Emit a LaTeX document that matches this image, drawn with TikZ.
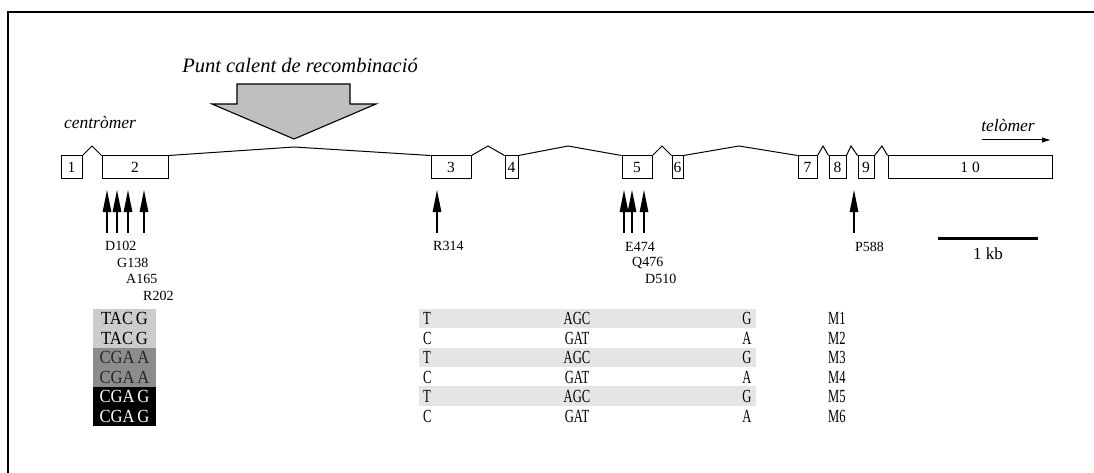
\documentclass[tikz,border=0pt]{standalone}
\usepackage{fontspec}
\setmainfont{Liberation Serif}
\usetikzlibrary{arrows.meta}
\definecolor{hotgray}{gray}{0.75}
\definecolor{lightrow}{gray}{0.80}
\definecolor{midrow}{gray}{0.55}
\definecolor{stripe}{gray}{0.90}
\begin{document}
\begin{tikzpicture}[x=1pt,y=-1pt,
  exon/.style={draw, line width=1pt, inner sep=0pt, minimum height=23pt, font=\fontsize{15.5}{17}\selectfont},
  intron/.style={line width=1pt},
  mutarrow/.style={line width=1.1pt, -{Triangle[length=22pt,width=8.5pt]}},
  mutlabel/.style={anchor=west, inner sep=0pt, font=\fontsize{14}{15}\selectfont},
  tabtext/.style={inner sep=0pt, font=\fontsize{18.5}{20}\selectfont},
  lefttab/.style={tabtext, anchor=center},
]
\useasboundingbox (0,0) rectangle (1094,473);
% frame
\draw[line width=1.8pt] (8,473) -- (8,12) -- (1094,12);

% title and hotspot arrow
\node[font=\fontsize{20.5}{22}\selectfont\itshape, inner sep=0pt] (title) at (300,65) {Punt calent de recombinació};
\draw[line width=1.1pt, fill=hotgray] (237,84) -- (350,84) -- (350,104) -- (376,104) -- (294,139) -- (212,104) -- (237,104) -- cycle;

% labels
\node[font=\fontsize{17.5}{19}\selectfont\itshape, inner sep=0pt] (cen) at (100,123) {centròmer};
\node[font=\fontsize{17.5}{19}\selectfont\itshape, inner sep=0pt] (tel) at (1008,126) {telòmer};
\coordinate (tela) at (982,140);
\coordinate (telb) at (1051,140);
\draw[line width=1pt, -{Latex[length=9pt,width=5.5pt]}] (tela) -- (telb);

% exons
\node[exon, minimum width=21pt] (e1) at (71.5,167.5) {1};
\node[exon, minimum width=66pt] (e2) at (135,167.5) {2};
\node[exon, minimum width=40pt] (e3) at (451,167.5) {3};
\node[exon, minimum width=13pt] (e4) at (511.5,167.5) {4};
\node[exon, minimum width=30pt] (e5) at (637,167.5) {5};
\node[exon, minimum width=11pt] (e6) at (677.5,167.5) {6};
\node[exon, minimum width=19pt] (e7) at (807.5,167.5) {7};
\node[exon, minimum width=17pt] (e8) at (837.5,167.5) {8};
\node[exon, minimum width=16pt] (e9) at (866,167.5) {9};
\node[exon, minimum width=164pt] (e10) at (970,167.5) {1\hspace{4pt}0};

% introns
\coordinate (a12) at (92,146);
\coordinate (a23) at (294,147);
\coordinate (a34) at (488,146);
\coordinate (a45) at (568,146);
\coordinate (a56) at (662,146);
\coordinate (a67) at (739,146);
\coordinate (a78) at (823,146);
\coordinate (a89) at (851,146);
\coordinate (a910) at (882,146);
\draw[intron] (e1.north east) -- (a12) -- (e2.north west);
\draw[intron] (e2.north east) -- (a23) -- (e3.north west);
\draw[intron] (e3.north east) -- (a34) -- (e4.north west);
\draw[intron] (e4.north east) -- (a45) -- (e5.north west);
\draw[intron] (e5.north east) -- (a56) -- (e6.north west);
\draw[intron] (e6.north east) -- (a67) -- (e7.north west);
\draw[intron] (e7.north east) -- (a78) -- (e8.north west);
\draw[intron] (e8.north east) -- (a89) -- (e9.north west);
\draw[intron] (e9.north east) -- (a910) -- (e10.north west);

% mutation arrows
\foreach \n/\x in {m1/107, m2/117, m3/128, m4/144, m5/437, m6/624, m7/632, m8/644, m9/854} {
  \coordinate (\n b) at (\x,233);
  \coordinate (\n t) at (\x,190);
  \draw[mutarrow] (\n b) -- (\n t);
}
\node[mutlabel] (l1) at (105,246) {D102};
\node[mutlabel] (l2) at (117,263) {G138};
\node[mutlabel] (l3) at (126,279) {A165};
\node[mutlabel] (l4) at (143,296) {R202};
\node[mutlabel] (l5) at (433,246) {R314};
\node[mutlabel] (l6) at (625,247) {E474};
\node[mutlabel] (l7) at (632,263) {Q476};
\node[mutlabel] (l8) at (645,279) {D510};
\node[mutlabel] (l9) at (855,247) {P588};

% scale bar
\coordinate (sba) at (938,238);
\coordinate (sbb) at (1038,238);
\draw[line width=3pt] (sba) -- (sbb);
\node[font=\fontsize{17}{18}\selectfont, inner sep=0pt] (kb) at (988,254) {1 kb};

% table: left block
\fill[lightrow] (93,309) rectangle (156,348);
\fill[midrow] (93,348) rectangle (156,387);
\fill[black] (93,387) rectangle (156,426);
\node[lefttab] (h1) at (124.5,318.7) {\scalebox{0.9}[1]{TAC\hspace{3pt}G}};
\node[lefttab] (h2) at (124.5,338.2) {\scalebox{0.9}[1]{TAC\hspace{3pt}G}};
\node[lefttab, text=black!85] (h3) at (124.5,357.7) {\scalebox{0.9}[1]{CGA\hspace{3pt}A}};
\node[lefttab, text=black!85] (h4) at (124.5,377.2) {\scalebox{0.9}[1]{CGA\hspace{3pt}A}};
\node[lefttab, text=white] (h5) at (124.5,396.7) {\scalebox{0.9}[1]{CGA\hspace{3pt}G}};
\node[lefttab, text=white] (h6) at (124.5,416.2) {\scalebox{0.9}[1]{CGA\hspace{3pt}G}};

% table: right stripes
\fill[stripe] (419,309) rectangle (756,328);
\fill[stripe] (419,348) rectangle (756,367);
\fill[stripe] (419,386) rectangle (756,406);

\foreach \i/\y/\a/\b/\c in {1/318.7/T/AGC/G, 2/338.2/C/GAT/A, 3/357.7/T/AGC/G, 4/377.2/C/GAT/A, 5/396.7/T/AGC/G, 6/416.2/C/GAT/A} {
  \node[tabtext, anchor=west] (ca\i) at (423,\y) {\scalebox{0.68}[1]{\a}};
  \node[tabtext] (cb\i) at (577,\y) {\scalebox{0.68}[1]{\b}};
  \node[tabtext] (cc\i) at (747,\y) {\scalebox{0.68}[1]{\c}};
  \node[tabtext, anchor=west] (cm\i) at (828,\y) {\scalebox{0.68}[1]{M\i}};
}
\end{tikzpicture}
\end{document}
